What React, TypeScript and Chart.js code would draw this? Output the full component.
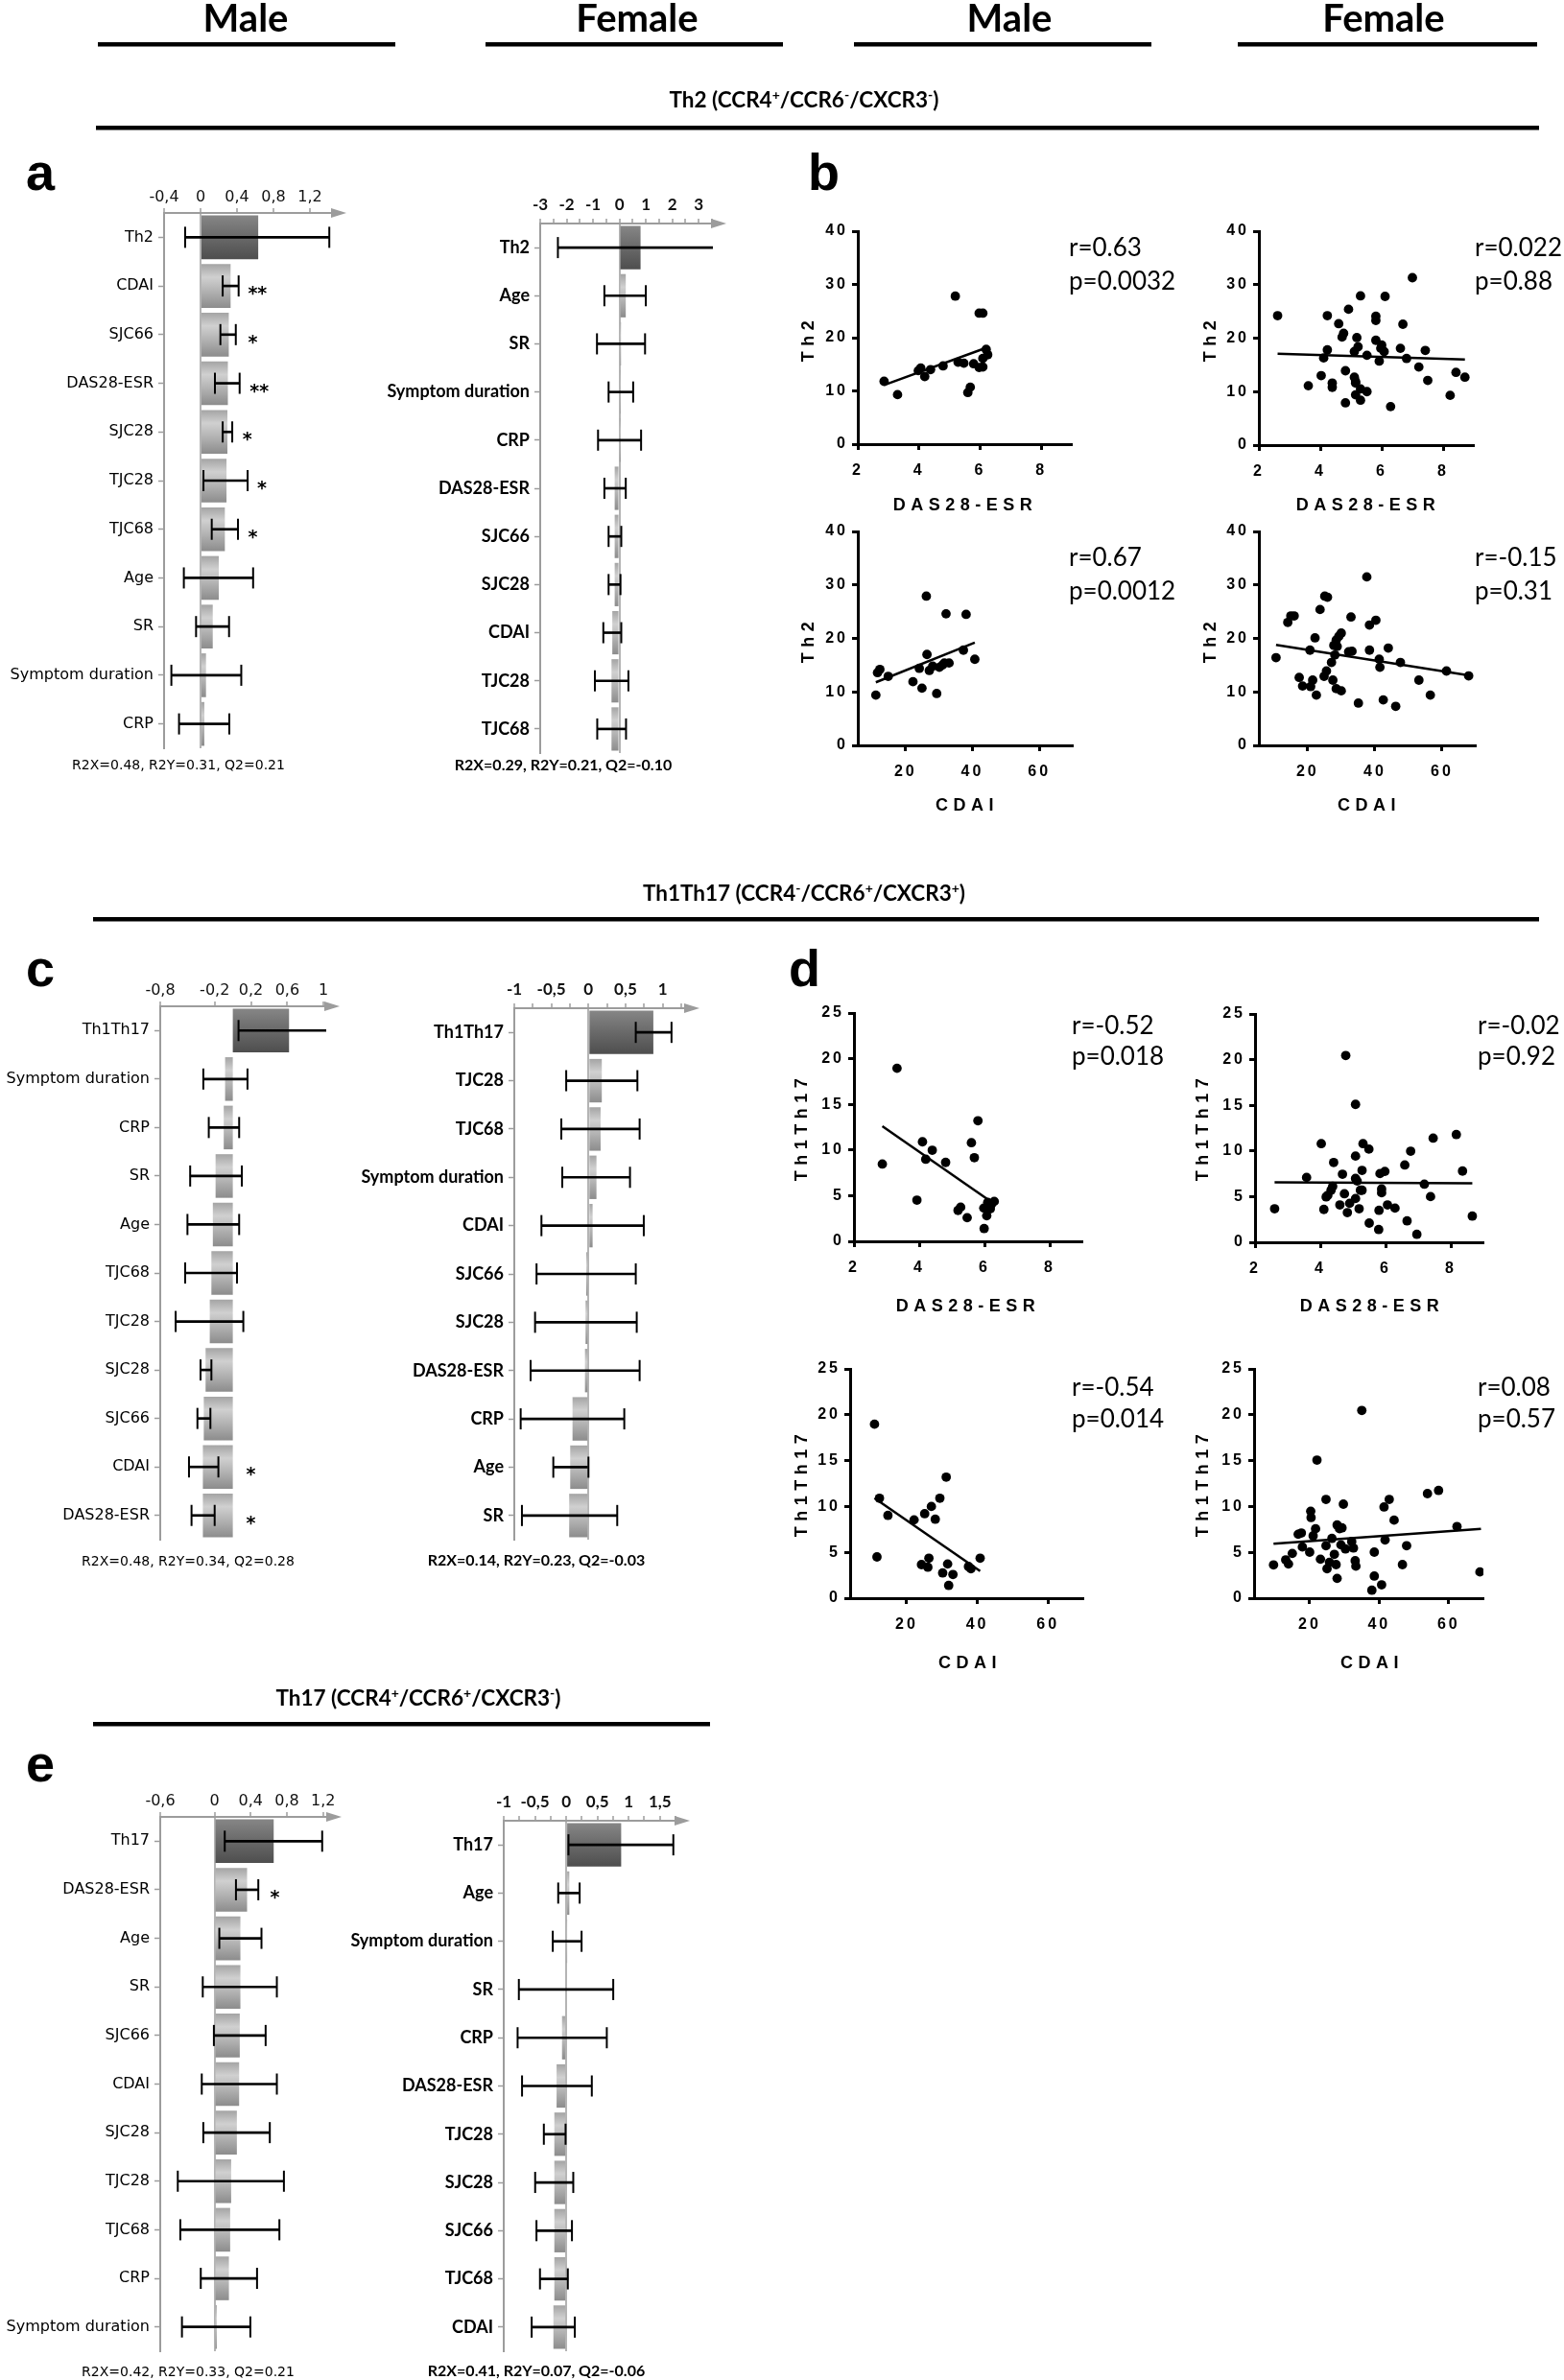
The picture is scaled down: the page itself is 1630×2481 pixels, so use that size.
import React, { useEffect, useRef } from 'react';
import { Chart, registerables } from 'chart.js';
Chart.register(...registerables);

// ---------------- Panel a (Th2) ----------------
const aMaleLabels = ['Th2', 'CDAI', 'SJC66', 'DAS28-ESR', 'SJC28', 'TJC28', 'TJC68', 'Age', 'SR', 'Symptom duration', 'CRP'];
const aMaleValues = [0.633, 0.33, 0.31, 0.3, 0.295, 0.285, 0.267, 0.2, 0.134, 0.06, 0.042];
const aMaleLow = [-0.169, 0.243, 0.218, 0.158, 0.243, 0.032, 0.123, -0.183, -0.049, -0.32, -0.236];
const aMaleHigh = [1.413, 0.418, 0.387, 0.429, 0.348, 0.517, 0.411, 0.577, 0.313, 0.447, 0.316];
const aMaleStars = ['', '**', '*', '**', '*', '*', '*', '', '', '', ''];
const aMaleStarX = [0, 0.52, 0.52, 0.54, 0.46, 0.62, 0.52, 0, 0, 0, 0];
const aMaleTicks = [-0.4, 0, 0.4, 0.8, 1.2];

const aFemaleLabels = ['Th2', 'Age', 'SR', 'Symptom duration', 'CRP', 'DAS28-ESR', 'SJC66', 'SJC28', 'CDAI', 'TJC28', 'TJC68'];
const aFemaleValues = [0.8, 0.24, 0.06, 0.05, 0.01, -0.18, -0.18, -0.18, -0.27, -0.3, -0.3];
const aFemaleLow = [-2.33, -0.57, -0.85, -0.41, -0.81, -0.57, -0.41, -0.41, -0.61, -0.93, -0.84];
const aFemaleHigh = [3.94, 1.0, 0.97, 0.52, 0.82, 0.24, 0.07, 0.04, 0.07, 0.34, 0.25];
const aFemaleTicks = [-3, -2, -1, 0, 1, 2, 3];
const aFemaleMinor = [-2.5, -1.5, -0.5, 0.5, 1.5, 2.5, 3.5];

// ---------------- Panel c (Th1Th17) ----------------
const cMaleLabels = ['Th1Th17', 'Symptom duration', 'CRP', 'SR', 'Age', 'TJC68', 'TJC28', 'SJC28', 'SJC66', 'CDAI', 'DAS28-ESR'];
const cMaleValues = [0.62, -0.085, -0.1, -0.19, -0.22, -0.236, -0.254, -0.3, -0.32, -0.33, -0.33];
const cMaleLow = [0.063, -0.325, -0.265, -0.47, -0.5, -0.525, -0.63, -0.356, -0.39, -0.483, -0.455];
const cMaleHigh = [1.168, 0.162, 0.07, 0.1, 0.07, 0.046, 0.116, -0.236, -0.247, -0.159, -0.2];
const cMaleStars = ['', '', '', '', '', '', '', '', '', '*', '*'];
const cMaleStarX = [0, 0, 0, 0, 0, 0, 0, 0, 0, 0.148, 0.148];
const cMaleTicks = [-0.8, -0.2, 0.2, 0.6, 1];

const cFemaleLabels = ['Th1Th17', 'TJC28', 'TJC68', 'Symptom duration', 'CDAI', 'SJC66', 'SJC28', 'DAS28-ESR', 'CRP', 'Age', 'SR'];
const cFemaleValues = [0.875, 0.18, 0.164, 0.108, 0.056, -0.03, -0.039, -0.047, -0.215, -0.246, -0.26];
const cFemaleLow = [0.638, -0.3, -0.366, -0.353, -0.634, -0.7, -0.72, -0.78, -0.914, -0.474, -0.897];
const cFemaleHigh = [1.12, 0.66, 0.69, 0.56, 0.746, 0.638, 0.651, 0.69, 0.483, 0.0, 0.388];
const cFemaleTicks = [-1, -0.5, 0, 0.5, 1];
const cFemaleMinor = [-0.75, -0.25, 0.25, 0.75, 1.25];

// ---------------- Panel e (Th17) ----------------
const eMaleLabels = ['Th17', 'DAS28-ESR', 'Age', 'SR', 'SJC66', 'CDAI', 'SJC28', 'TJC28', 'TJC68', 'CRP', 'Symptom duration'];
const eMaleValues = [0.654, 0.36, 0.286, 0.286, 0.279, 0.272, 0.247, 0.184, 0.173, 0.159, 0.025];
const eMaleLow = [0.113, 0.237, 0.053, -0.13, -0.007, -0.141, -0.124, -0.406, -0.378, -0.152, -0.36];
const eMaleHigh = [1.19, 0.484, 0.519, 0.689, 0.565, 0.689, 0.611, 0.767, 0.717, 0.47, 0.396];
const eMaleStars = ['', '*', '', '', '', '', '', '', '', '', ''];
const eMaleStarX = [0, 0.615, 0, 0, 0, 0, 0, 0, 0, 0, 0];
const eMaleTicks = [-0.6, 0, 0.4, 0.8, 1.2];

const eFemaleLabels = ['Th17', 'Age', 'Symptom duration', 'SR', 'CRP', 'DAS28-ESR', 'TJC28', 'SJC28', 'SJC66', 'TJC68', 'CDAI'];
const eFemaleValues = [0.88, 0.05, 0.01, 0.0, -0.067, -0.154, -0.19, -0.19, -0.19, -0.19, -0.205];
const eFemaleLow = [0.036, -0.128, -0.215, -0.758, -0.778, -0.707, -0.358, -0.497, -0.476, -0.42, -0.553];
const eFemaleHigh = [1.715, 0.215, 0.246, 0.753, 0.65, 0.41, -0.01, 0.113, 0.092, 0.026, 0.138];
const eFemaleTicks = [-1, -0.5, 0, 0.5, 1, 1.5];
const eFemaleMinor = [-0.75, -0.25, 0.25, 0.75, 1.25, 1.75];

// ---------------- Panel b (Th2 correlations) ----------------
const dasTicks = [2, 4, 6, 8];
const cdaiTicks = [20, 40, 60];
const th2Ticks = [0, 10, 20, 30, 40];
const th1Ticks = [0, 5, 10, 15, 20, 25];

const bMaleDasX = [2.86, 3.3, 3.98, 4.06, 4.19, 4.38, 4.79, 5.19, 5.28, 5.47, 5.6, 5.68, 5.79, 5.97, 6.09, 5.97, 6.09, 6.09, 6.2, 6.25];
const bMaleDasY = [11.8, 9.3, 13.8, 14.3, 12.7, 14.0, 14.7, 27.8, 15.4, 15.2, 9.7, 10.7, 15.1, 24.6, 24.6, 14.4, 14.5, 16.1, 17.8, 16.8];
const bMaleDasFit = [2.86, 11.1, 6.25, 18.2];

const bFemaleDasX = [2.61, 3.61, 4.03, 4.11, 4.23, 4.23, 4.39, 4.39, 4.6, 4.71, 4.76, 4.82, 4.82, 4.92, 5.11, 5.11, 5.15, 5.15, 5.15, 5.19, 5.23, 5.31, 5.31, 5.31, 5.52, 5.52, 5.81, 5.81, 5.81, 5.92, 5.97, 6.0, 6.08, 6.11, 6.29, 6.61, 6.69, 6.81, 7.0, 7.21, 7.42, 7.5, 8.23, 8.42, 8.71];
const bFemaleDasY = [24.2, 11.1, 13.0, 16.3, 24.2, 17.8, 11.6, 10.8, 22.7, 20.2, 20.9, 13.9, 7.9, 25.4, 17.5, 12.7, 11.9, 11.6, 9.4, 20.1, 18.4, 27.9, 10.5, 8.4, 16.8, 10.0, 24.1, 23.3, 19.6, 15.7, 18.1, 18.7, 17.5, 27.8, 7.2, 18.1, 22.6, 16.2, 31.3, 14.6, 17.7, 12.1, 9.3, 13.6, 12.7];
const bFemaleDasFit = [2.61, 17.1, 8.71, 16.0];

const bMaleCdaiX = [11.1, 11.6, 12.3, 14.8, 22.2, 24.1, 24.9, 26.2, 26.4, 27.1, 28.1, 29.3, 30.1, 31.6, 32.1, 33.0, 37.3, 38.1, 40.7, 31.0];
const bMaleCdaiY = [9.4, 13.6, 14.2, 12.9, 11.9, 14.4, 10.7, 27.9, 17.0, 14.0, 14.8, 9.7, 14.6, 15.4, 24.6, 15.4, 17.8, 24.5, 16.1, 15.0];
const bMaleCdaiFit = [11.1, 11.8, 40.7, 19.2];

const bFemaleCdaiX = [10.6, 14.1, 15.0, 16.0, 17.5, 18.5, 20.7, 20.9, 21.5, 22.2, 22.6, 23.7, 25.1, 25.9, 24.9, 25.6, 27.1, 27.5, 27.8, 28.5, 29.3, 28.5, 28.8, 30.0, 30.0, 28.1, 32.2, 32.9, 33.2, 35.1, 37.6, 38.4, 38.4, 40.3, 41.3, 41.5, 42.5, 44.0, 46.2, 47.6, 53.1, 56.5, 61.3, 67.9];
const bFemaleCdaiY = [16.4, 23.0, 24.2, 24.2, 12.7, 11.1, 17.8, 11.0, 12.2, 20.1, 9.4, 25.4, 27.9, 27.7, 12.9, 13.9, 15.5, 12.2, 18.7, 19.7, 20.4, 10.6, 18.5, 21.0, 10.2, 16.9, 17.5, 24.0, 17.6, 7.9, 31.5, 22.5, 17.8, 23.4, 16.1, 14.6, 8.5, 18.2, 7.3, 15.5, 12.2, 9.4, 13.9, 13.0];
const bFemaleCdaiFit = [10.6, 18.8, 67.9, 13.1];

// ---------------- Panel d (Th1Th17 correlations) ----------------
const dMaleDasX = [2.87, 3.32, 3.93, 4.1, 4.2, 4.4, 4.81, 5.19, 5.27, 5.47, 5.6, 5.69, 5.8, 5.98, 5.99, 6.07, 6.1, 6.18, 6.22, 6.3];
const dMaleDasY = [8.46, 18.95, 4.51, 10.9, 8.99, 9.97, 8.64, 3.39, 3.74, 2.59, 10.8, 9.16, 13.2, 3.64, 1.4, 2.8, 4.27, 3.57, 4.09, 4.37];
const dMaleDasFit = [2.87, 12.6, 6.1, 4.6];

const dFemaleDasX = [2.6, 3.58, 4.03, 4.11, 4.18, 4.23, 4.33, 4.38, 4.41, 4.6, 4.68, 4.74, 4.78, 4.83, 4.9, 5.08, 5.08, 5.08, 5.13, 5.08, 5.19, 5.23, 5.28, 5.31, 5.28, 5.49, 5.5, 5.79, 5.8, 5.83, 5.88, 5.88, 5.98, 6.06, 6.29, 6.59, 6.66, 6.77, 6.96, 7.19, 7.38, 7.46, 8.17, 8.36, 8.66];
const dFemaleDasY = [3.67, 7.1, 10.8, 3.6, 4.97, 5.14, 5.7, 6.12, 8.74, 4.09, 7.45, 5.31, 20.45, 3.25, 4.27, 15.1, 9.44, 6.99, 6.71, 4.79, 3.67, 5.7, 7.87, 10.8, 5.7, 10.2, 2.1, 1.4, 3.5, 7.52, 5.84, 5.42, 7.76, 4.09, 3.74, 8.46, 2.34, 9.97, 0.87, 6.36, 5.0, 11.4, 11.8, 7.8, 2.87];
const dFemaleDasFit = [2.6, 6.57, 8.66, 6.47];

const dMaleCdaiX = [10.9, 11.6, 12.3, 14.7, 22.1, 24.2, 25.1, 26.0, 26.3, 27.0, 28.1, 29.4, 30.2, 31.2, 31.6, 31.9, 33.1, 37.5, 38.2, 40.8];
const dMaleCdaiY = [18.97, 4.5, 10.9, 9.03, 8.54, 3.66, 9.21, 3.38, 4.36, 10.0, 8.61, 10.9, 2.75, 13.2, 3.73, 1.39, 2.58, 3.45, 3.21, 4.36];
const dMaleCdaiFit = [10.9, 10.9, 40.8, 2.96];

const dFemaleCdaiX = [9.6, 13.1, 13.9, 15.0, 16.7, 17.6, 17.9, 20.0, 20.3, 20.4, 21.0, 21.7, 22.1, 23.1, 24.7, 24.7, 25.0, 25.7, 26.4, 27.1, 27.6, 27.9, 27.9, 28.6, 29.0, 29.3, 29.7, 30.3, 32.1, 32.6, 33.1, 33.3, 35.0, 37.9, 38.6, 38.6, 40.7, 41.4, 41.7, 42.9, 44.3, 46.7, 47.9, 53.9, 57.1, 62.4, 69.0];
const dFemaleCdaiY = [3.63, 4.18, 3.73, 4.88, 6.97, 7.11, 5.58, 5.02, 9.48, 8.79, 6.8, 7.57, 15.06, 4.25, 10.77, 5.72, 3.21, 3.91, 6.52, 4.78, 3.66, 2.16, 7.98, 7.57, 5.82, 7.67, 10.25, 5.37, 6.17, 5.47, 4.08, 3.49, 20.47, 0.87, 5.02, 2.41, 1.46, 9.94, 6.35, 10.77, 8.51, 3.66, 5.72, 11.4, 11.75, 7.81, 2.86];
const dFemaleCdaiFit = [9.6, 5.93, 69.3, 7.57];

// ====================================================================
const AXIS_GREY = '#9c9c9c';

type BarProps = {
  labels: string[]; values: number[]; low: number[]; high: number[];
  stars?: string[]; starX?: number[];
  ticks: number[]; minor?: number[]; min: number; max: number;
  L: number; R: number; T: number; B: number; cl: number; female?: boolean;
};

function BarPanel(p: BarProps) {
  const ref = useRef<HTMLCanvasElement>(null);
  const H = 40, PR = 26, PB = 16;
  const ct = p.T - H;
  const cw = p.R - p.cl + PR;
  const ch = p.B - ct + PB;
  useEffect(() => {
    const n = p.labels.length;
    const labelFont = p.female
      ? { family: 'Lato, sans-serif', size: 18, weight: 'bold' as const }
      : { family: '"DejaVu Sans", Verdana, sans-serif', size: 16, weight: 'normal' as const };
    const tickFont = p.female
      ? { family: 'Lato, sans-serif', size: 17, weight: 'bold' as const }
      : { family: '"DejaVu Sans", Verdana, sans-serif', size: 16, weight: 'normal' as const };
    const fmt = (v: number) => String(v).replace('.', ',');
    const allTicks = [...p.ticks, ...(p.minor || [])].sort((a, b) => a - b);
    const grad = (c: any) => {
      const chart = c.chart;
      const ys = chart.scales && chart.scales.y;
      const first = c.dataIndex === 0;
      if (!ys || !chart.chartArea || c.type !== 'data' || !isFinite(ys.top)) return first ? '#666666' : '#b5b5b5';
      const py = ys.getPixelForValue(c.dataIndex);
      const half = (0.45 * (ys.bottom - ys.top)) / n;
      const g = chart.ctx.createLinearGradient(0, py - half, 0, py + half);
      if (first) {
        g.addColorStop(0, '#868686'); g.addColorStop(0.45, '#6c6c6c'); g.addColorStop(1, '#4e4e4e');
      } else {
        g.addColorStop(0, '#a4a4a4'); g.addColorStop(0.3, '#d0d0d0'); g.addColorStop(0.6, '#b4b4b4'); g.addColorStop(1, '#8c8c8c');
      }
      return g;
    };
    const extras = {
      id: 'extras',
      afterDatasetsDraw(chart: any) {
        if (!p.stars) return;
        const ctx = chart.ctx, xs = chart.scales.x, ys = chart.scales.y;
        ctx.save();
        ctx.fillStyle = '#000';
        ctx.font = 'bold 19px "DejaVu Sans", sans-serif';
        ctx.textAlign = 'left';
        ctx.textBaseline = 'alphabetic';
        p.stars.forEach((s, i) => {
          if (s) ctx.fillText(s, xs.getPixelForValue(p.starX![i]), ys.getPixelForValue(i) + 14);
        });
        ctx.restore();
      },
      afterDraw(chart: any) {
        const ctx = chart.ctx, a = chart.chartArea;
        ctx.save();
        ctx.fillStyle = AXIS_GREY;
        ctx.beginPath();
        ctx.moveTo(a.right - 2, a.top - 5);
        ctx.lineTo(a.right + 14, a.top);
        ctx.lineTo(a.right - 2, a.top + 5);
        ctx.closePath();
        ctx.fill();
        ctx.restore();
      },
    };
    const chart = new Chart(ref.current!, {
      type: 'bar',
      data: {
        labels: p.labels,
        datasets: [
          { type: 'bar', data: p.values, backgroundColor: grad, borderWidth: 0, barPercentage: 0.9, categoryPercentage: 1, grouped: false, order: 3 } as any,
          { type: 'bar', data: p.low.map((l, i) => [l, p.high[i]]), backgroundColor: '#000', borderWidth: 0, barThickness: 2, grouped: false, order: 2 } as any,
          {
            type: 'scatter',
            data: [...p.low.map((v, i) => ({ x: v, y: p.labels[i] })), ...p.high.map((v, i) => ({ x: v, y: p.labels[i] }))],
            pointStyle: 'line', pointRadius: 11, pointRotation: 90, pointBorderColor: '#000', pointBorderWidth: 2,
            pointBackgroundColor: '#000', order: 1,
          } as any,
        ],
      },
      options: {
        animation: false,
        responsive: false,
        indexAxis: 'y',
        layout: { padding: { top: 0, right: PR, bottom: PB, left: 0 } },
        plugins: { legend: { display: false }, tooltip: { enabled: false } },
        scales: {
          x: {
            type: 'linear', position: 'top', min: p.min, max: p.max,
            afterBuildTicks: (s: any) => { s.ticks = allTicks.map((v) => ({ value: v })); },
            afterFit: (s: any) => { s.height = H; },
            ticks: {
              callback: (v: any) => (p.ticks.includes(v) ? fmt(v) : ''),
              font: tickFont, color: '#111', padding: p.female ? 4 : 2, maxRotation: 0, autoSkip: false,
            },
            grid: {
              drawOnChartArea: true,
              color: (c: any) => (c.tick && c.tick.value === 0 ? '#b4b4b4' : 'rgba(0,0,0,0)'),
              lineWidth: 2, tickColor: AXIS_GREY, tickLength: 5, tickWidth: 1.5,
            },
            border: { display: true, color: AXIS_GREY, width: 2 },
          },
          y: {
            type: 'category', position: 'left', offset: true,
            afterFit: (s: any) => { s.width = p.L - p.cl; },
            ticks: { font: labelFont, color: '#000', padding: 5, autoSkip: false },
            grid: { drawOnChartArea: false, offset: false, tickColor: AXIS_GREY, tickLength: 6, tickWidth: 1.5 },
            border: { display: true, color: AXIS_GREY, width: 2 },
          },
        },
      } as any,
      plugins: [extras],
    });
    return () => chart.destroy();
  }, []);
  return <canvas ref={ref} width={cw} height={ch} style={{ position: 'absolute', left: p.cl, top: ct, width: cw, height: ch }} />;
}

type ScProps = {
  xs: number[]; ys: number[]; fit: number[]; xMin: number; xMax: number; yMax: number;
  xTicks: number[]; yTicks: number[]; L: number; R: number; T: number; B: number;
};

function ScatterPanel(p: ScProps) {
  const ref = useRef<HTMLCanvasElement>(null);
  const W = 70, H = 60, PT = 20, PR = 20;
  const cl = p.L - W, ct = p.T - PT, cw = p.R - p.L + W + PR, ch = p.B - p.T + PT + H;
  useEffect(() => {
    const tickFont = { family: '"Liberation Sans", Arial, sans-serif', size: 16, weight: 'bold' as const };
    const chart = new Chart(ref.current!, {
      type: 'scatter',
      data: {
        datasets: [
          { type: 'scatter', data: p.xs.map((x, i) => ({ x, y: p.ys[i] })), pointRadius: 4.9, pointBackgroundColor: '#000', pointBorderWidth: 0, order: 2 } as any,
          { type: 'line', data: [{ x: p.fit[0], y: p.fit[1] }, { x: p.fit[2], y: p.fit[3] }], borderColor: '#000', borderWidth: 2.5, pointRadius: 0, order: 1 } as any,
        ],
      },
      options: {
        animation: false,
        responsive: false,
        layout: { padding: { top: PT, right: PR, left: 0, bottom: 0 } },
        plugins: { legend: { display: false }, tooltip: { enabled: false } },
        scales: {
          x: {
            type: 'linear', position: 'bottom', min: p.xMin, max: p.xMax,
            afterBuildTicks: (s: any) => { s.ticks = p.xTicks.map((v) => ({ value: v })); },
            afterFit: (s: any) => { s.height = H; },
            ticks: { font: tickFont, color: '#000', padding: 12, maxRotation: 0, autoSkip: false },
            grid: { drawOnChartArea: false, tickLength: 6, tickWidth: 3, tickColor: '#000' },
            border: { display: true, color: '#000', width: 3 },
          },
          y: {
            type: 'linear', min: 0, max: p.yMax,
            afterBuildTicks: (s: any) => { s.ticks = p.yTicks.map((v) => ({ value: v })); },
            afterFit: (s: any) => { s.width = W; },
            ticks: { font: tickFont, color: '#000', padding: 4 },
            grid: { drawOnChartArea: false, tickLength: 6, tickWidth: 3, tickColor: '#000' },
            border: { display: true, color: '#000', width: 3 },
          },
        },
      } as any,
      plugins: [{ id: 'ls', beforeDraw(c: any) { c.ctx.letterSpacing = '3px'; } }],
    });
    return () => chart.destroy();
  }, []);
  return <canvas ref={ref} width={cw} height={ch} style={{ position: 'absolute', left: cl, top: ct, width: cw, height: ch }} />;
}

const LATO = 'Lato, sans-serif';
const ARIAL = '"Liberation Sans", Arial, sans-serif';
const DEJAVU = '"DejaVu Sans", Verdana, sans-serif';

function Title({ x, y, base }: { x: number; y: number; base: string[] }) {
  return (
    <text x={x} y={y} textAnchor="middle" fontFamily={LATO} fontWeight="bold" fontSize={22.5} fill="#000">
      {base[0]} (CCR4<tspan dy={-8} fontSize={14}>{base[1]}</tspan>
      <tspan dy={8}>/CCR6</tspan><tspan dy={-8} fontSize={14}>{base[2]}</tspan>
      <tspan dy={8}>/CXCR3</tspan><tspan dy={-8} fontSize={14}>{base[3]}</tspan>
      <tspan dy={8}>)</tspan>
    </text>
  );
}

function RP({ x, y1, y2, r, pv }: { x: number; y1: number; y2: number; r: string; pv: string }) {
  return (
    <g fontFamily={LATO} fontSize={26} fill="#000">
      <text x={x} y={y1}>{r}</text>
      <text x={x} y={y2}>{pv}</text>
    </g>
  );
}

function XT({ x, y, t }: { x: number; y: number; t: string }) {
  return <text x={x + 3} y={y} textAnchor="middle" fontFamily={ARIAL} fontWeight="bold" fontSize={18} letterSpacing={5.5} fill="#000">{t}</text>;
}
function YT({ x, y, t }: { x: number; y: number; t: string }) {
  return <text transform={`translate(${x},${y + 3}) rotate(-90)`} textAnchor="middle" fontFamily={ARIAL} fontWeight="bold" fontSize={18} letterSpacing={5.5} fill="#000">{t}</text>;
}

export default function App() {
  useEffect(() => {
    document.body.style.margin = '0';
    document.body.style.overflow = 'hidden';
  }, []);
  return (
    <div style={{ position: 'absolute', left: 0, top: 0, width: 1630, height: 2481, overflow: 'hidden', background: '#fff' }}>
      {/* panel a */}
      <BarPanel labels={aMaleLabels} values={aMaleValues} low={aMaleLow} high={aMaleHigh} stars={aMaleStars} starX={aMaleStarX}
        ticks={aMaleTicks} min={-0.4} max={1.453} L={171} R={347} T={222} B={780} cl={0} />
      <BarPanel labels={aFemaleLabels} values={aFemaleValues} low={aFemaleLow} high={aFemaleHigh}
        ticks={aFemaleTicks} minor={aFemaleMinor} min={-3} max={3.54} L={563} R={743} T={233} B={785} cl={390} female />
      {/* panel c */}
      <BarPanel labels={cMaleLabels} values={cMaleValues} low={cMaleLow} high={cMaleHigh} stars={cMaleStars} starX={cMaleStarX}
        ticks={cMaleTicks} min={-0.8} max={1.03} L={167} R={340} T={1049} B={1605} cl={0} />
      <BarPanel labels={cFemaleLabels} values={cFemaleValues} low={cFemaleLow} high={cFemaleHigh}
        ticks={cFemaleTicks} minor={cFemaleMinor} min={-1} max={1.316} L={536} R={715} T={1051} B={1605} cl={360} female />
      {/* panel e */}
      <BarPanel labels={eMaleLabels} values={eMaleValues} low={eMaleLow} high={eMaleHigh} stars={eMaleStars} starX={eMaleStarX}
        ticks={eMaleTicks} min={-0.6} max={1.256} L={167} R={342} T={1894} B={2451} cl={0} />
      <BarPanel labels={eFemaleLabels} values={eFemaleValues} low={eFemaleLow} high={eFemaleHigh}
        ticks={eFemaleTicks} minor={eFemaleMinor} min={-1} max={1.765} L={525} R={705} T={1898} B={2451} cl={355} female />

      {/* panel b */}
      <ScatterPanel xs={bMaleDasX} ys={bMaleDasY} fit={bMaleDasFit} xMin={2} xMax={9} yMax={40} xTicks={dasTicks} yTicks={th2Ticks} L={894} R={1117} T={241} B={463} />
      <ScatterPanel xs={bFemaleDasX} ys={bFemaleDasY} fit={bFemaleDasFit} xMin={2} xMax={9} yMax={40} xTicks={dasTicks} yTicks={th2Ticks} L={1312} R={1536} T={241} B={464} />
      <ScatterPanel xs={bMaleCdaiX} ys={bMaleCdaiY} fit={bMaleCdaiFit} xMin={5.7} xMax={70} yMax={40} xTicks={cdaiTicks} yTicks={th2Ticks} L={894} R={1118} T={554} B={777} />
      <ScatterPanel xs={bFemaleCdaiX} ys={bFemaleCdaiY} fit={bFemaleCdaiFit} xMin={5.5} xMax={70} yMax={40} xTicks={cdaiTicks} yTicks={th2Ticks} L={1312} R={1538} T={554} B={777} />
      {/* panel d */}
      <ScatterPanel xs={dMaleDasX} ys={dMaleDasY} fit={dMaleDasFit} xMin={2} xMax={9} yMax={25} xTicks={dasTicks} yTicks={th1Ticks} L={890} R={1128} T={1056} B={1294} />
      <ScatterPanel xs={dFemaleDasX} ys={dFemaleDasY} fit={dFemaleDasFit} xMin={2} xMax={9} yMax={25} xTicks={dasTicks} yTicks={th1Ticks} L={1308} R={1546} T={1057} B={1295} />
      <ScatterPanel xs={dMaleCdaiX} ys={dMaleCdaiY} fit={dMaleCdaiFit} xMin={4} xMax={70} yMax={25} xTicks={cdaiTicks} yTicks={th1Ticks} L={886} R={1129} T={1427} B={1666} />
      <ScatterPanel xs={dFemaleCdaiX} ys={dFemaleCdaiY} fit={dFemaleCdaiFit} xMin={4} xMax={70} yMax={25} xTicks={cdaiTicks} yTicks={th1Ticks} L={1307} R={1546} T={1427} B={1666} />

      <svg width={1630} height={2481} style={{ position: 'absolute', left: 0, top: 0, pointerEvents: 'none' }}>
        {/* header */}
        <g fontFamily={LATO} fontWeight="bold" fontSize={40} fill="#000" textAnchor="middle">
          <text x={256} y={33}>Male</text>
          <text x={664} y={33}>Female</text>
          <text x={1052} y={33}>Male</text>
          <text x={1442} y={33}>Female</text>
        </g>
        <rect x={102} y={44} width={310} height={4.5} fill="#000" />
        <rect x={506} y={44} width={310} height={4.5} fill="#000" />
        <rect x={890} y={44} width={310} height={4.5} fill="#000" />
        <rect x={1290} y={44} width={312} height={4.5} fill="#000" />

        {/* section titles */}
        <Title x={838} y={112} base={['Th2', '+', '-', '-']} />
        <rect x={100} y={131} width={1504} height={4.5} fill="#000" />
        <Title x={838} y={939} base={['Th1Th17', '-', '+', '+']} />
        <rect x={97} y={956} width={1507} height={4.5} fill="#000" />
        <Title x={436} y={1778} base={['Th17', '+', '+', '-']} />
        <rect x={97} y={1795} width={643} height={4.5} fill="#000" />

        {/* panel letters */}
        <g fontFamily={ARIAL} fontWeight="bold" fontSize={54} fill="#000">
          <text x={27} y={198}>a</text>
          <text x={842} y={198}>b</text>
          <text x={27} y={1028}>c</text>
          <text x={822} y={1028}>d</text>
          <text x={27} y={1857}>e</text>
        </g>

        {/* model statistics */}
        <g fontFamily={DEJAVU} fontSize={14} fill="#000" textAnchor="middle">
          <text x={186} y={802}>R2X=0.48, R2Y=0.31, Q2=0.21</text>
          <text x={196} y={1632}>R2X=0.48, R2Y=0.34, Q2=0.28</text>
          <text x={196} y={2477}>R2X=0.42, R2Y=0.33, Q2=0.21</text>
        </g>
        <g fontFamily={LATO} fontWeight="bold" fontSize={16} fill="#000" textAnchor="middle">
          <text x={587} y={803}>R2X=0.29, R2Y=0.21, Q2=-0.10</text>
          <text x={559} y={1632}>R2X=0.14, R2Y=0.23, Q2=-0.03</text>
          <text x={559} y={2477}>R2X=0.41, R2Y=0.07, Q2=-0.06</text>
        </g>

        {/* correlation statistics */}
        <RP x={1114} y1={267} y2={302} r="r=0.63" pv="p=0.0032" />
        <RP x={1537} y1={267} y2={302} r="r=0.022" pv="p=0.88" />
        <RP x={1114} y1={590} y2={625} r="r=0.67" pv="p=0.0012" />
        <RP x={1537} y1={590} y2={625} r="r=-0.15" pv="p=0.31" />
        <RP x={1117} y1={1078} y2={1110} r="r=-0.52" pv="p=0.018" />
        <RP x={1540} y1={1078} y2={1110} r="r=-0.02" pv="p=0.92" />
        <RP x={1117} y1={1455} y2={1488} r="r=-0.54" pv="p=0.014" />
        <RP x={1540} y1={1455} y2={1488} r="r=0.08" pv="p=0.57" />

        {/* scatter axis titles */}
        <XT x={1003} y={532} t="DAS28-ESR" />
        <XT x={1423} y={532} t="DAS28-ESR" />
        <XT x={1005} y={845} t="CDAI" />
        <XT x={1424} y={845} t="CDAI" />
        <XT x={1006} y={1367} t="DAS28-ESR" />
        <XT x={1427} y={1367} t="DAS28-ESR" />
        <XT x={1008} y={1739} t="CDAI" />
        <XT x={1427} y={1739} t="CDAI" />
        <YT x={848} y={350} t="Th2" />
        <YT x={1267} y={350} t="Th2" />
        <YT x={848} y={664} t="Th2" />
        <YT x={1267} y={664} t="Th2" />
        <YT x={841} y={1172} t="Th1Th17" />
        <YT x={1259} y={1172} t="Th1Th17" />
        <YT x={841} y={1543} t="Th1Th17" />
        <YT x={1259} y={1543} t="Th1Th17" />
      </svg>
    </div>
  );
}
